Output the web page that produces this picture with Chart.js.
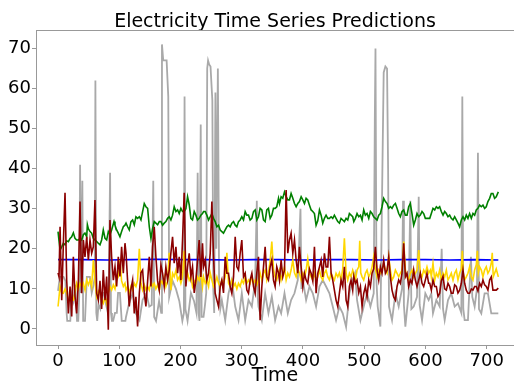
<!DOCTYPE html>
<html>
<head>
<meta charset="utf-8">
<script src="https://cdn.jsdelivr.net/npm/chart.js@4/dist/chart.umd.min.js"></script>
<style>
html,body{margin:0;padding:0;background:#fff;}
#wrap{width:514px;height:387px;position:relative;}
</style>
</head>
<body>
<div id="wrap"><canvas id="c" width="514" height="387"></canvas></div>
<script>
// [time, value] pairs
const actual = [[0,9.5],[3,13],[6,13],[9,13],[12,12],[14,4],[15,2],[17,2],[20,2],[22,9],[25,7],[28,11],[31,2],[33,2],[34.5,8],[36,41],[37.5,9],[39.7,37],[41,2],[44,2],[47,13],[50,13],[52,13],[55,9],[58,11],[60,13],[61,62],[62.5,4],[64,2],[66,6],[69,5],[71,9],[74,9],[77,7],[80,5],[83,12],[85,39],[86.5,4],[88,2],[90,2],[93,4],[96,4],[98,9],[101,9],[104,2],[107,2],[110,2],[111,3],[116,6.4],[122,8.9],[127,3.9],[133,2.2],[138,7.2],[144,8.9],[149,5.6],[153,6],[155.5,37],[157,3],[160,2],[165,7],[168.5,4],[169.7,71],[171.8,67],[177.3,67],[180,58],[181.5,8],[187,12],[192.5,10],[198,7],[203,2],[205.5,4],[206.6,58],[208,5],[211.5,2],[217,9],[222,7],[226,4],[228,39],[229.5,4],[231,2],[233,51],[234.5,3],[237.6,3],[240,6],[242,9],[243.6,65],[245,67],[246.8,66],[249,65.5],[252,57],[253.5,10],[255,4],[257,59],[258.5,20],[261,65],[263,12],[265,5],[267.5,7.2],[273,2.2],[278.4,8.9],[283.8,12.2],[289.3,5.6],[294.7,2.2],[300.1,8.9],[305.6,2.2],[311,7.2],[316.5,5.6],[321.9,12.2],[324.6,32],[326,8],[327.3,5.6],[332.8,2.2],[338.2,8.9],[343.6,3.9],[349.1,8.1],[354.5,2.2],[360,5.6],[364.3,3.9],[369.8,8.9],[375.2,3.9],[380.6,7.2],[386.1,8.9],[391.5,12.2],[395.9,30],[397.5,10],[399.7,12.2],[405.1,7.2],[410.6,10.6],[416,8.9],[421.4,5.6],[426.9,10.6],[432.3,12.2],[437.7,10.6],[443.2,8.9],[448.6,5.6],[454,2.2],[459.5,5.6],[464.9,3.9],[470.4,0.5],[475.8,8.9],[481.2,12.2],[485,13.9],[488.3,7.2],[493.8,2.2],[499.2,5.6],[504.6,8.9],[510.1,5.6],[515.5,8.9],[517.3,52],[518.4,70],[520,12],[522,5.6],[526.4,0.6],[529.7,40],[531.8,64],[534.6,65.5],[537.3,65],[539,40],[540.5,5.6],[545.4,2.2],[550.9,8.9],[556.3,5.6],[561.7,10],[563.4,32],[564.8,6],[567.2,0.6],[572.6,8.9],[575.3,32],[577,5],[580.8,5.6],[586.2,8],[589,33],[590.5,6],[594.4,2.2],[599.8,8.9],[605.2,7.2],[609.6,8.9],[612.3,3.9],[617.8,7.2],[623.2,5.6],[626.5,20],[628.7,5],[631.4,2.2],[636.8,7.2],[642.2,8.9],[647.7,5.6],[653.1,6.4],[658.6,4],[660.2,58],[661.8,5],[664,2.2],[669.4,2.2],[674.3,18],[676.5,8],[680.3,5.6],[684.1,10],[685.7,44],[687.4,5],[691.2,3.9],[696.6,8.9],[702,8.9],[707.5,3.9],[712.9,3.9],[719,3.9]];

const predMean = [[0,17.3],[40,17.3],[80,17.2],[120,17.3],[160,17.4],[200,17.3],[240,17.3],[280,17.2],[320,17.3],[360,17.3],[400,17.2],[440,17.3],[480,17.3],[520,17.2],[560,17.3],[600,17.3],[640,17.2],[680,17.3],[719,17.2]];

const predGreen = [[0,24.3],[1.6,22],[3.3,19.7],[6,20.5],[8.7,21.4],[11.4,21],[14.1,22],[16.9,21.8],[19.6,22.6],[22.3,23],[25,24],[27.7,22.6],[30.4,22.2],[33.2,22.2],[35.9,22.6],[38.6,22.2],[41.3,23.5],[44,23.9],[46.8,23],[47.9,26],[49.5,25],[52.2,24.3],[54.9,23.9],[57.6,22.6],[60.3,22.2],[63.1,21.8],[65.8,21.4],[68.5,21],[71.2,22.2],[73.9,24.7],[76.7,22.6],[79.4,22.2],[82.1,24.3],[84.8,23.5],[87.5,24.7],[91.4,26.8],[93,25.9],[95.7,24.7],[98.4,23.9],[101.1,23],[103.8,24.3],[106.6,25.5],[109.3,25.9],[111,26.4],[113.6,25.5],[116.3,24.7],[119.1,26.8],[121.8,27.2],[124.5,26],[127.2,28],[129.9,27.6],[132.7,28],[135.4,27.2],[138.1,29.3],[140.8,31.3],[143.5,30.5],[146.3,30.1],[149,25.5],[151.7,22.6],[154.4,25],[157.1,26.8],[159.8,26.4],[162.6,26],[165.3,26.8],[168,26.8],[170.7,25.9],[173.4,26.4],[176.1,26.8],[178.9,27.6],[181.6,28],[184.3,27.2],[187,28.4],[189.7,30.5],[192.5,29.3],[195.2,29.7],[197.9,28.8],[200.6,30.1],[203.3,29.3],[206,29.3],[208.8,30],[211.5,33],[214.2,31],[216.9,27.6],[219.6,27.2],[222.4,29.3],[225.1,28.4],[227.8,27.2],[230.5,27.6],[233.2,28.4],[235.9,28.8],[237.6,29.3],[240.3,29.3],[243,28.4],[245.8,27.2],[248.5,28],[251.2,28.8],[253.9,27.6],[256.6,26.8],[259.4,25.5],[262.1,25.9],[264.8,24.7],[267.5,24.3],[270.2,23.9],[273,24.7],[275.7,25.5],[278.4,25.9],[281.1,25.5],[283.8,26.4],[286.6,26.8],[289.3,25.9],[292,25.5],[294.7,26.8],[297.4,27.2],[300.1,28],[302.9,27.2],[305.6,29.3],[308.3,28.4],[311,28.4],[313.7,27.2],[316.5,27.6],[319.2,29.3],[321.9,29.7],[324.6,27.2],[327.3,28],[330,30.1],[332.8,29.7],[335.5,27.2],[338.2,26.8],[340.9,29.7],[343.6,30.1],[346.4,27.6],[349.1,28.4],[351.8,30.1],[354.5,30.1],[357.2,30.5],[360,32.6],[361.6,31.3],[364.3,33],[367,32.6],[369.8,34.2],[372.5,33],[375.2,32.2],[377.9,32.2],[380.6,33.8],[383.4,32.6],[386.1,31.3],[388.8,30.5],[391.5,31.3],[394.2,31.8],[397,33],[399.7,32.2],[402.4,31.3],[405.1,32.6],[407.8,32.2],[410.6,30.9],[413.3,29.7],[416,29.3],[418.7,28.8],[421.4,25.9],[424.1,27],[426.9,29.7],[429.6,28.4],[432.3,26.4],[435,27.6],[437.7,28.4],[440.5,27.6],[443.2,27.6],[445.9,28],[448.6,27.6],[451.3,28.4],[454,27.6],[456.8,26.8],[459.5,26.4],[462.2,27.6],[464.9,27.2],[467.6,26.8],[470.4,27.6],[473.1,27.2],[475.8,28.8],[478.5,28.4],[481.2,28],[483,26.8],[485.6,27.6],[488.3,28.8],[491.1,28],[493.8,28.4],[496.5,27.2],[499.2,29.7],[501.9,28.4],[504.6,28.8],[507.4,27.6],[510.1,29.3],[512.8,28.8],[515.5,28],[518.2,27.6],[521,27.2],[523.7,28.4],[526.4,28.8],[529.1,30.5],[531.8,32.6],[534.6,31.8],[537.3,31.3],[540,30.1],[542.7,30.5],[545.4,30.1],[548.1,30.9],[550.9,31.3],[553.6,30.1],[556.3,28.8],[559,28],[561.7,29.3],[564.5,29.7],[567.2,28.4],[569.9,28.4],[572.6,30.5],[575.3,31.3],[578,28.8],[580.8,25.9],[583.5,27.2],[586.2,28.8],[589,28],[591.6,28.4],[594.4,29.3],[597.1,28.8],[599.8,27.6],[602.5,27.6],[605.2,27.6],[607,27.6],[609.6,28.8],[612.3,30.1],[615.1,29.7],[617.8,30.5],[620.5,30.1],[623.2,30.5],[625.9,29.3],[628.7,28.4],[631.4,29.3],[634.1,28.8],[636.8,28],[639.5,28.4],[642.2,27.6],[645,27.2],[647.7,28],[650.4,27.2],[653.1,26.4],[655.8,25.5],[658.6,27.2],[661.3,28],[664,27.2],[666.7,28.4],[669.4,27.6],[672.1,28.8],[674.9,27.6],[677.6,28.8],[680.3,28.4],[683,29.7],[685.7,30.1],[688.5,30.9],[691.2,30.5],[693.9,30.9],[696.6,30.1],[699.3,30.5],[702,31.8],[704.8,32.6],[707.5,33.8],[710.2,33.8],[712.9,32.6],[715.6,33],[719,34.2]];

const predGold = [[0,5.6],[1.6,8],[3.3,10.6],[6,9],[8.7,8.9],[11.4,10],[14.1,9],[16.9,7.2],[19.6,7],[22.3,7.2],[25,7.2],[27.7,9],[30.4,11.4],[33.2,10],[35.9,11.4],[38.6,10.6],[41.3,11.4],[44,9.7],[46.8,12.2],[49.5,11],[52.2,12.2],[54.9,10.6],[57.6,17.2],[60.3,12],[63.1,8.1],[65.8,9.5],[68.5,8.9],[71.2,7.2],[73.9,6.4],[76.7,8],[79.4,6.4],[82.1,9],[84.8,10.6],[87.5,9.7],[90.3,11],[93,10],[95.7,12.2],[98.4,13],[101.1,17.2],[103.8,12],[106.6,10.6],[109.3,11.4],[111,9.7],[113.6,10.6],[116.3,8.9],[119.1,10.6],[121.8,9.7],[124.5,11.4],[127.2,10.6],[129.9,12.2],[132.7,20],[135.4,11.4],[138.1,9.7],[140.8,11],[143.5,9.7],[146.3,10.6],[149,9.7],[151.7,12],[154.4,10.6],[157.1,11.4],[159.8,10],[162.6,11],[165.3,9.7],[168,12],[170.7,11.4],[173.4,13],[176.1,10.6],[178.9,12],[181.6,19],[184.3,9.7],[187,13.9],[189.7,13],[192.5,14.7],[195.2,12.2],[197.9,13],[200.6,11.4],[203.3,13],[206,19.5],[208.8,12],[211.5,14],[214.2,12.2],[216.9,13],[219.6,10.6],[222.4,12],[225.1,11.4],[227.8,13],[230.5,12.2],[233.2,14],[235.9,10.6],[237.6,13],[240.3,11.4],[243,12.2],[245.8,10.6],[248.5,14],[251.2,12.2],[253.9,10.6],[256.6,11.4],[259.4,13],[262.1,11.4],[264.8,10.6],[267.5,12.2],[270.2,11.4],[273,13],[275.7,19],[278.4,11.4],[281.1,10.6],[283.8,12.2],[286.6,10.6],[289.3,11.4],[292,10],[294.7,11.4],[297.4,10.6],[300.1,12.2],[302.9,11.4],[305.6,13],[308.3,11.4],[311,12.2],[313.7,11.4],[316.5,13],[319.2,11.4],[321.9,12.2],[324.6,11],[327.3,12.2],[330,14],[332.8,12.2],[335.5,13.9],[338.2,14.7],[340.9,12.2],[343.6,14],[346.4,17],[349.1,21.8],[351.8,15],[354.5,13],[357.2,12.2],[360,14],[361.6,14.7],[364.3,12.2],[367,13.9],[369.8,15.5],[372.5,12.2],[375.2,13.9],[377.9,13],[380.6,14.7],[383.4,17.2],[386.1,14],[388.8,13],[391.5,15],[394.2,13.9],[397,12.2],[399.7,13.9],[402.4,13],[405.1,14.7],[407.8,17.5],[410.6,14],[413.3,13],[416,12.2],[418.7,13.9],[421.4,12.2],[424.1,13],[426.9,14.7],[429.6,13],[432.3,12.2],[435,13.9],[437.7,14.7],[440.5,13],[443.2,12.2],[445.9,13.9],[448.6,13],[451.3,12.2],[454,13.9],[456.8,13],[459.5,14],[462.2,12.2],[464.9,15],[467.6,22.6],[470.4,14],[473.1,12.2],[475.8,13.9],[478.5,13],[481.2,14.7],[483,13.9],[485.6,12.2],[488.3,14.7],[491.1,15.5],[492.7,22],[494.3,14],[496.5,13],[499.2,12.2],[501.9,13.9],[504.6,14.7],[507.4,13],[510.1,13.9],[512.8,15.5],[515.5,18],[518.2,15],[521,13],[523.7,14.7],[526.4,13.9],[529.1,14.7],[531.8,16.4],[534.6,14.7],[537.3,13.9],[540,18],[542.7,14.7],[545.4,12.2],[548.1,13],[550.9,14.7],[553.6,13.9],[556.3,13],[559,13.9],[561.7,14.7],[564.5,21.8],[567.2,14.7],[569.9,13],[572.6,12.2],[575.3,13.9],[578,14.7],[580.8,13],[583.5,13.9],[586.2,14.7],[589,19.7],[591.6,13.9],[594.4,13],[597.1,14.7],[599.8,13.9],[602.5,15.5],[605.2,13.9],[608,14.7],[609.6,13],[612.3,16.4],[615.1,12.2],[617.8,13.9],[620.5,13],[623.2,14.7],[625.9,12.2],[628.7,13.9],[631.4,13],[634.1,14.7],[636.8,12.2],[639.5,13],[642.2,13.9],[645,12.2],[647.7,13.9],[650.4,14.7],[653.1,12.2],[655.8,13.9],[658.6,15],[660.2,19.5],[661.8,14],[664,12.2],[666.7,13],[669.4,13.9],[672.1,15.5],[674.9,13],[677.6,12.2],[680.3,14.7],[683,16],[684.7,19.5],[686.3,14],[688.5,15.5],[691.2,14.7],[693.9,13],[696.6,14.7],[699.3,15.5],[702,13.9],[704.8,14.7],[707.5,16.4],[709.1,19],[710.7,13],[712.9,13.9],[715.6,15],[719,13]];

const predRed = [[0,14],[1.6,13],[3.3,25.5],[6,7.2],[8.7,21.4],[11.4,34],[14.1,12.2],[16.9,3.9],[19.6,10.6],[22.3,3.1],[25,18],[27.7,8.1],[30.4,3.9],[33.2,12],[35.9,31.8],[38.6,8.9],[41.3,22.2],[44,18],[46.8,23],[49.5,17.2],[52.2,22.2],[54.9,18.9],[57.6,20.5],[60.3,32.2],[63.1,8.9],[65.8,7.2],[68.5,12],[71.2,5],[73.9,14.7],[76.7,7.2],[79.4,13.1],[82.1,-0.2],[84.8,27.2],[87.5,18],[90.3,12.2],[93,15.5],[95.7,10.6],[98.4,18],[101.1,13.1],[103.8,20.5],[106.6,13.9],[109.3,21.4],[111,18.9],[113.6,12],[116.3,5.6],[119.1,10],[121.8,12.2],[124.5,3.9],[127.2,8],[129.9,0.6],[132.7,8.9],[135.4,14],[138.1,14.7],[140.8,9],[143.5,5.6],[146.3,12],[149,18],[151.7,10.6],[154.4,20.5],[157.1,25.5],[159.8,18],[162.6,12],[165.3,9.7],[168,16],[170.7,13.9],[173.4,10.6],[176.1,15.5],[178.9,12.2],[181.6,14.7],[184.3,19],[187,23],[189.7,16.4],[192.5,20.5],[195.2,13.9],[197.9,18],[200.6,12.2],[203.3,22.2],[206,34],[208.8,10.6],[211.5,15.5],[214.2,18.9],[216.9,13],[219.6,15.5],[222.4,9],[225.1,12.2],[227.8,17],[230.5,22.2],[233.2,13],[235.9,21.4],[237.6,15.5],[240.3,17.2],[243,12.2],[245.8,13.9],[248.5,18.9],[251.2,31.8],[253.9,18],[256.6,8.9],[259.4,7.2],[262.1,5.6],[264.8,10.6],[267.5,12.2],[270.2,9],[273,18],[275.7,13.9],[278.4,13.9],[281.1,10.6],[283.8,8.9],[286.6,13],[289.3,23],[292,15.5],[294.7,14.7],[297.4,18.9],[300.1,22.2],[302.9,13],[305.6,13.9],[308.3,9.7],[311,8.9],[313.7,12.2],[316.5,13.9],[319.2,10.6],[321.9,8.9],[324.6,14],[327.3,18],[330,2.2],[332.8,10.6],[335.5,15.5],[338.2,20.5],[340.9,13],[343.6,12.2],[346.4,15.5],[349.1,17.2],[351.8,12.2],[354.5,10.6],[357.2,15.5],[360,13.9],[361.6,12.2],[364.3,17.2],[367,13],[369.8,14.7],[372.5,34.7],[375.2,18.9],[377.9,22.2],[380.6,23.9],[383.4,18.9],[386.1,22.2],[388.8,17.2],[391.5,13.9],[394.2,20.5],[397,15.5],[399.7,10.6],[402.4,13.9],[405.1,12.2],[407.8,11.4],[410.6,15],[413.3,13.9],[416,12],[418.7,20.5],[421.4,8.9],[424.1,13.9],[426.9,15.5],[429.6,17.2],[432.3,13],[435,18.9],[437.7,15.5],[440.5,15.5],[443.2,23],[445.9,14],[448.6,12.2],[451.3,9.7],[454,7.2],[456.8,5.6],[459.5,9],[462.2,12.2],[464.9,10.6],[467.6,15.5],[470.4,7.2],[473.1,5.6],[475.8,10.6],[478.5,12.2],[481.2,9.7],[483,13.1],[485.6,11.4],[488.3,12.2],[491.1,9],[493.8,10.6],[496.5,5.6],[499.2,8.9],[501.9,10.6],[504.6,8],[507.4,12.2],[510.1,10.6],[512.8,13.9],[515.5,15],[518.2,20.5],[521,14.7],[523.7,12.2],[526.4,15.5],[529.1,13.9],[531.8,17.2],[534.6,13.9],[537.3,14.7],[540,18],[542.7,13],[545.4,9.7],[548.1,8],[550.9,7.2],[553.6,10.6],[556.3,12.2],[559,11.4],[561.7,13.9],[564.5,21.4],[567.2,13],[569.9,13.9],[572.6,10.6],[575.3,12.2],[578,11.4],[580.8,14.7],[583.5,12.2],[586.2,10.6],[589,12.2],[591.6,13.9],[594.4,11.4],[597.1,10.6],[599.8,12.2],[602.5,13.9],[605.2,11.4],[607,11.4],[609.6,9.7],[612.3,12.2],[615.1,10.6],[617.8,10.6],[620.5,8.1],[623.2,8.9],[625.9,12],[628.7,13.1],[631.4,10],[634.1,9.7],[636.8,11.4],[639.5,10.6],[642.2,8.9],[645,8.9],[647.7,11],[650.4,10.6],[653.1,9],[655.8,9.7],[658.6,11.4],[661.3,14.7],[664,11.4],[666.7,9.7],[669.4,8.9],[672.1,8.9],[674.9,10],[677.6,9.7],[680.3,10.6],[683,10.6],[685.7,9.5],[688.5,11.4],[691.2,10.6],[693.9,12.2],[696.6,11],[699.3,10.6],[702,9.7],[704.8,12.2],[707.5,13],[710.2,9.7],[712.9,9.7],[715.6,9.7],[719,10.2]];

const xTicks = [0,100,200,300,400,500,600,700];
const yTicks = [0,10,20,30,40,50,60,70];

const toXY = arr => arr.map(p => ({x: p[0], y: p[1]}));
const FONT = "'DejaVu Sans', sans-serif";

const ds = (label, arr, color, order, width) => ({
  label, data: toXY(arr), borderColor: color, backgroundColor: color,
  borderWidth: width, pointRadius: 0, tension: 0, order, fill: false
});

new Chart(document.getElementById('c'), {
  type: 'line',
  data: {
    datasets: [
      ds('Actual', actual, '#a9a9a9', 5, 1.8),
      ds('Mean', predMean, '#0000ff', 3, 1.6),
      ds('Model A', predGreen, '#008000', 4, 1.6),
      ds('Model B', predGold, '#ffd700', 2, 1.6),
      ds('Model C', predRed, '#8b0000', 1, 1.6)
    ]
  },
  options: {
    responsive: false,
    animation: false,
    events: [],
    layout: { padding: { left: 0, right: 0, top: 0, bottom: 0 } },
    plugins: {
      legend: { display: false },
      tooltip: { enabled: false },
      title: {
        display: true,
        fullSize: false,
        text: 'Electricity Time Series Predictions',
        color: '#000',
        font: { family: FONT, size: 19, weight: 'normal', lineHeight: 0.85 },
        padding: { top: 13.7, bottom: 0.15 }
      }
    },
    scales: {
      x: {
        type: 'linear',
        min: -36, max: 744.6,
        grid: { display: true, drawOnChartArea: false, drawTicks: true, tickLength: 4, color: '#999', tickColor: '#999' },
        border: { display: true, color: '#999', width: 1 },
        ticks: { color: '#000', font: { family: FONT, size: 18 }, padding: 1.5, maxRotation: 0, autoSkip: false },
        afterBuildTicks: s => { s.ticks = xTicks.map(v => ({value: v})); },
        afterFit: s => { s.height = 42; },
        title: { display: true, text: 'Time', color: '#000', font: { family: FONT, size: 19 }, padding: { top: 4, bottom: 0 } }
      },
      y: {
        type: 'linear',
        min: -4.0, max: 74.6,
        grid: { display: true, drawOnChartArea: false, drawTicks: true, tickLength: 4, color: '#999', tickColor: '#999' },
        border: { display: true, color: '#999', width: 1 },
        ticks: { color: '#000', font: { family: FONT, size: 18 }, padding: 1 },
        afterBuildTicks: s => { s.ticks = yTicks.map(v => ({value: v})); },
        afterFit: s => { s.width = 36; }
      }
    }
  },
  plugins: [{
    id: 'topBorder',
    afterDraw(chart) {
      const {ctx, chartArea: a} = chart;
      ctx.save();
      ctx.strokeStyle = '#999';
      ctx.lineWidth = 1;
      ctx.beginPath();
      ctx.moveTo(a.left, a.top + 0.5);
      ctx.lineTo(a.right, a.top + 0.5);
      ctx.stroke();
      ctx.restore();
    }
  }]
});
</script>
</body>
</html>
